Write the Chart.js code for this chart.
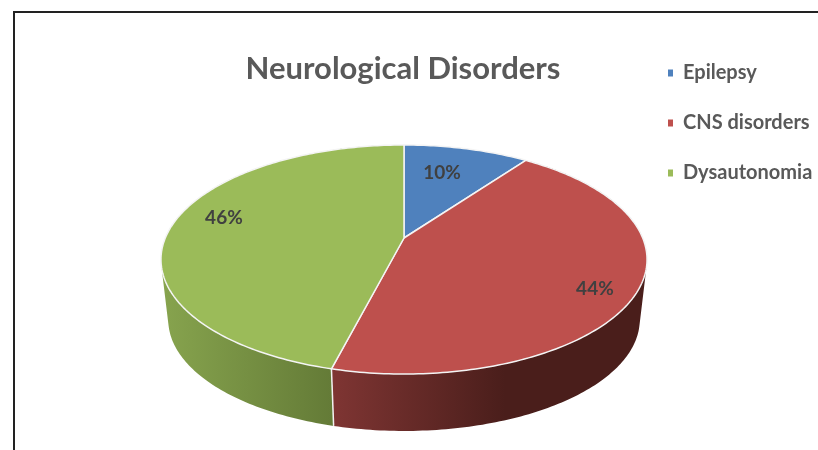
<!DOCTYPE html>
<html>
<head>
<meta charset="utf-8">
<title>Neurological Disorders</title>
<script src="https://cdn.jsdelivr.net/npm/chart.js@4"></script>
<style>
  html, body { margin: 0; padding: 0; width: 818px; height: 450px; overflow: hidden; background: #fff; }
  #frame { position: absolute; left: 13px; top: 11px; width: 900px; height: 600px; border: 2px solid #222; }
  #pie { position: absolute; left: 0; top: 0; filter: blur(0.4px); }
</style>
</head>
<body>
<div id="frame"></div>
<canvas id="pie" width="818" height="450"></canvas>
<script>
const categories = ['Epilepsy', 'CNS disorders', 'Dysautonomia'];
const shares = [10, 44, 46];

const faceColors = ['#4F81BD', '#BE504D', '#9BBB59'];
const wallLight = ['#3A5F8C', '#7F3533', '#87A44E'];
const wallDark = ['#2A4566', '#4A1E1B', '#647B37'];

// where each % label sits: fraction of radius, degrees from slice middle
const labelPlace = [[0.695, -3], [0.847, 4.3], [0.806, 6.8]];

// perspective view of the pie disc (top rim, then the same disc lower and a bit smaller for the base)
const view = { cx: 404, top: 238, base: 299, a: 238.7, b: 110.5, k: 0.1878, baseScale: 0.97 };

function project(angle, r, y0, s) {
    const u = r * Math.cos(angle), v = r * Math.sin(angle);
    const d = 1 - view.k * v;
    return { x: view.cx + s * view.a * u / d, y: y0 + s * view.b * v / d };
}
const topPt = (angle, r = 1) => project(angle, r, view.top, 1);
const basePt = (angle) => project(angle, 1, view.base, view.baseScale);

function anglesBetween(start, end) {
    const steps = Math.max(2, Math.ceil((end - start) * 60));
    const out = [];
    for (let i = 0; i <= steps; i++) out.push(start + (end - start) * i / steps);
    return out;
}

function drawWall(ctx, arc, i) {
    const angles = anglesBetween(arc.startAngle, arc.endAngle);
    const front = angles.filter(a => Math.sin(a) > -0.05);
    if (!front.length) return;
    const xs = front.map(a => topPt(a).x);
    const grad = ctx.createLinearGradient(Math.min(...xs), 0, Math.max(...xs), 0);
    grad.addColorStop(0, wallLight[i]);
    grad.addColorStop(i === 1 ? 0.55 : 1, wallDark[i]);
    if (i === 1) grad.addColorStop(1, wallDark[i]);

    // small quads in one path, all wound the same way, so the side silhouette gets filled without seams
    ctx.beginPath();
    for (let n = 0; n < angles.length - 1; n++) {
        let quad = [topPt(angles[n]), topPt(angles[n + 1]), basePt(angles[n + 1]), basePt(angles[n])];
        let area = 0;
        quad.forEach((p, j) => {
            const q = quad[(j + 1) % 4];
            area += p.x * q.y - q.x * p.y;
        });
        if (area < 0) quad = quad.reverse();
        quad.forEach((p, j) => (j ? ctx.lineTo(p.x, p.y) : ctx.moveTo(p.x, p.y)));
        ctx.closePath();
    }
    ctx.fillStyle = grad;
    ctx.fill();
}

function drawSeam(ctx, arc) {
    // white seam between two walls
    if (Math.sin(arc.startAngle) > 0) {
        const p = topPt(arc.startAngle), q = basePt(arc.startAngle);
        ctx.beginPath();
        ctx.moveTo(p.x, p.y);
        ctx.lineTo(q.x, q.y);
        ctx.strokeStyle = '#F2F2F2';
        ctx.lineWidth = 1.5;
        ctx.stroke();
    }
}

function drawFace(ctx, arc, i) {
    const c = topPt(0, 0);
    ctx.beginPath();
    ctx.moveTo(c.x, c.y);
    anglesBetween(arc.startAngle, arc.endAngle).forEach(a => {
        const p = topPt(a);
        ctx.lineTo(p.x, p.y);
    });
    ctx.closePath();
    ctx.fillStyle = faceColors[i];
    ctx.fill();
    ctx.strokeStyle = '#F4F4F4';
    ctx.lineWidth = 1.5;
    ctx.lineJoin = 'round';
    ctx.stroke();
}

const tiltedPie = {
    id: 'tiltedPie',
    afterLayout(chart) {
        // title is centred on the pie, legend sits in its own column
        chart.titleBlock.left = 0;
        chart.titleBlock.right = 806;
        chart.legend.left = 668 - chart.legend.options.labels.padding;
        chart.legend.top = 33;
    },
    beforeDatasetDraw(chart, args) {
        const ctx = chart.ctx;
        const arcs = args.meta.data;
        ctx.save();
        arcs.forEach((arc, i) => drawWall(ctx, arc, i));
        arcs.forEach(arc => drawSeam(ctx, arc));
        arcs.forEach((arc, i) => drawFace(ctx, arc, i));

        ctx.font = 'bold 19px Lato';
        ctx.fillStyle = '#404040';
        ctx.textAlign = 'center';
        ctx.textBaseline = 'middle';
        arcs.forEach((arc, i) => {
            const mid = (arc.startAngle + arc.endAngle) / 2 + labelPlace[i][1] * Math.PI / 180;
            const p = topPt(mid, labelPlace[i][0]);
            ctx.fillText(shares[i] + '%', p.x, p.y + 1);
        });
        ctx.restore();
        return false;
    }
};

new Chart(document.getElementById('pie').getContext('2d'), {
    type: 'pie',
    data: {
        labels: categories,
        datasets: [{ data: shares, backgroundColor: faceColors, borderWidth: 0 }]
    },
    options: {
        responsive: false,
        animation: false,
        devicePixelRatio: 1,
        plugins: {
            tooltip: { enabled: false },
            title: {
                display: true,
                text: 'Neurological Disorders',
                color: '#595959',
                font: { family: 'Lato', size: 31, weight: 'bold' },
                padding: { top: 50, bottom: 10 }
            },
            legend: {
                position: 'right',
                align: 'start',
                labels: {
                    boxWidth: 5,
                    boxHeight: 7,
                    padding: 30,
                    color: '#595959',
                    font: { family: 'Lato', size: 20, weight: 'bold' }
                }
            }
        }
    },
    plugins: [tiltedPie]
});
</script>
</body>
</html>
